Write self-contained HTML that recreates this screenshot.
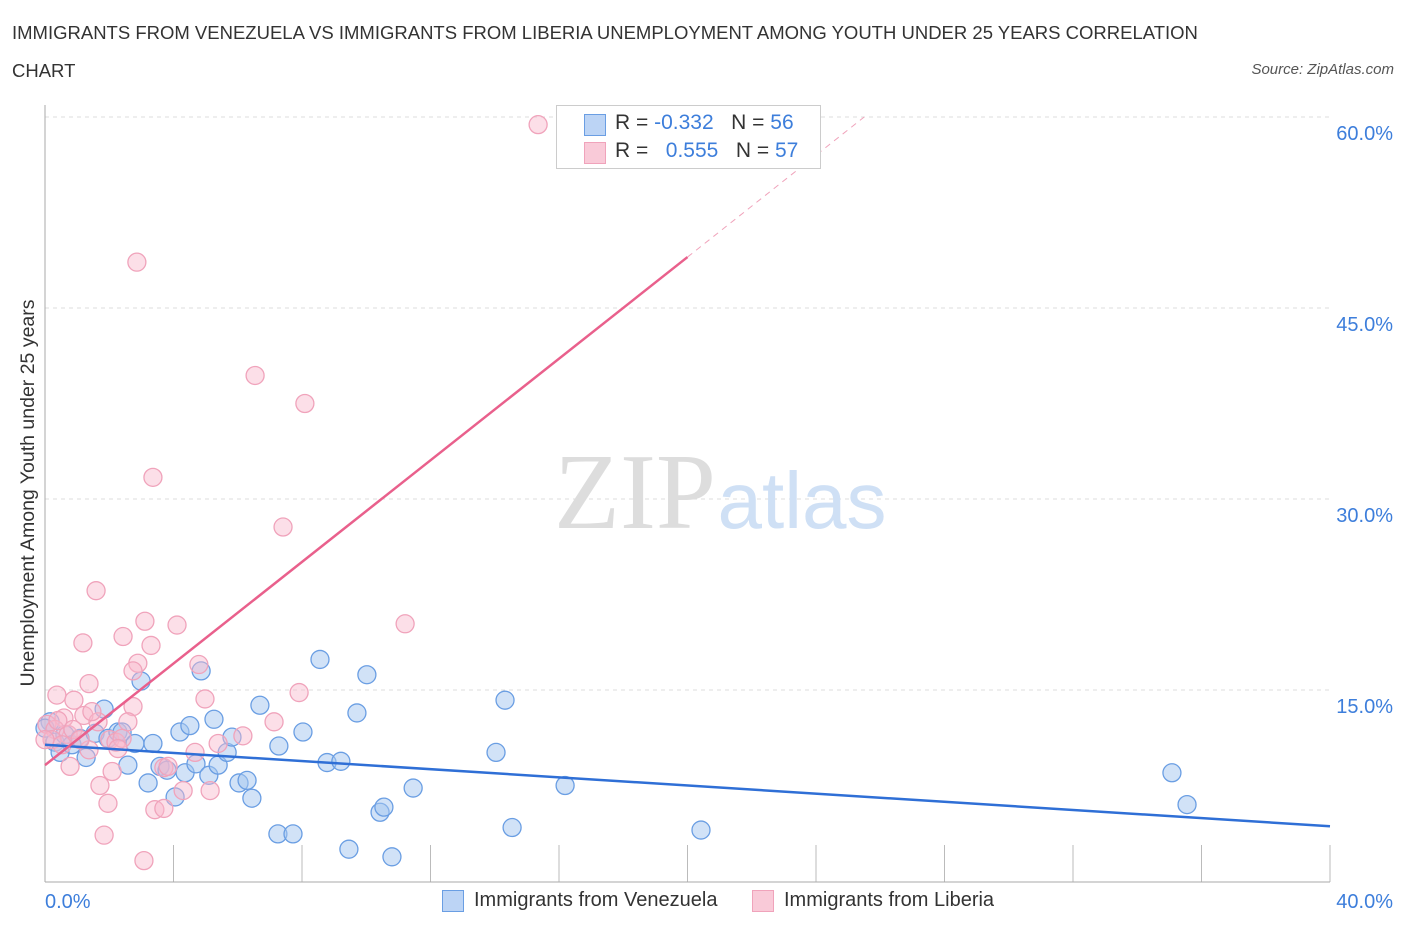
<!DOCTYPE html>
<html><head><meta charset="utf-8"><style>
body{margin:0;background:#fff;font-family:"Liberation Sans",sans-serif;}
#wrap{position:relative;width:1406px;height:930px;overflow:hidden;}
.t{position:absolute;color:#333;font-size:18.5px;}
</style></head><body>
<div id="wrap">
<div class="t" style="left:12px;top:22px">IMMIGRANTS FROM VENEZUELA VS IMMIGRANTS FROM LIBERIA UNEMPLOYMENT AMONG YOUTH UNDER 25 YEARS CORRELATION</div>
<div class="t" style="left:12px;top:60px">CHART</div>
<div class="t" style="right:12px;top:61px;font-size:15px;font-style:italic;color:#555">Source: ZipAtlas.com</div>
<svg id="svg" width="1406" height="930" style="position:absolute;left:0;top:0"></svg>
</div>
<script>
const yTicks=[15,30,45,60];
const yTickLabels=["15.0%","30.0%","45.0%","60.0%"];
const xTickLabels=["0.0%","40.0%"];
const blueX=[0.16,0.31,0.47,0.62,0.84,1.09,1.28,1.56,1.84,1.96,2.27,2.40,2.58,2.80,2.99,3.21,3.36,3.58,3.80,4.05,4.20,4.36,4.51,4.70,4.86,5.10,5.26,5.39,5.67,5.82,6.04,6.29,6.44,6.69,7.28,7.25,7.72,8.03,8.56,8.78,9.21,9.46,9.71,10.02,10.43,10.55,10.80,11.46,14.04,14.32,14.54,16.19,20.42,35.08,35.55,0];
const blueY=[12.5,10.9,10.1,11.5,10.7,11.2,9.7,11.6,13.5,11.2,11.7,11.7,9.1,10.8,15.7,7.7,10.8,9.0,8.7,6.6,11.7,8.5,12.2,9.2,16.5,8.3,12.7,9.1,10.1,11.3,7.7,7.9,6.5,13.8,10.6,3.7,3.7,11.7,17.4,9.3,9.4,2.5,13.2,16.2,5.4,5.8,1.9,7.3,10.1,14.2,4.2,7.5,4.0,8.5,6.0,12.0];
const pinkX=[15.35,2.86,6.54,8.09,3.36,7.41,1.59,3.11,4.11,11.21,2.43,1.18,3.30,2.89,2.74,4.79,1.37,0.37,7.91,4.98,0.90,2.74,0.59,1.21,1.65,2.58,7.13,0.06,0.31,0.72,2.02,2.21,5.39,6.16,1.37,0.78,4.67,3.70,2.09,1.71,5.14,4.30,1.96,3.42,3.70,1.84,3.08,0.22,0.53,0.87,0.40,2.40,1.09,0,1.46,2.27,3.83];
const pinkY=[59.4,48.6,39.7,37.5,31.7,27.8,22.8,20.4,20.1,20.2,19.2,18.7,18.5,17.1,16.5,17.0,15.5,14.6,14.8,14.3,14.2,13.7,12.8,13.0,12.5,12.5,12.5,12.3,11.9,11.5,11.1,10.9,10.8,11.4,10.3,9.0,10.1,8.9,8.6,7.5,7.1,7.1,6.1,5.6,5.7,3.6,1.6,11.1,10.7,11.9,12.6,11.2,11.1,11.1,13.3,10.4,9.0];
const blueTrend=[[0,10.7],[40,4.3]];
const pinkTrend=[[0,9.1],[20.0,49.0]];
const pinkDash=[[20.0,49.0],[25.5,60]];
const NS="http://www.w3.org/2000/svg";
const svg=document.getElementById('svg');
const X=v=>45+v/40*1285;
const Y=v=>881-v/15*191;
function mk(t,a){const e=document.createElementNS(NS,t);for(const k in a)e.setAttribute(k,a[k]);svg.appendChild(e);return e;}
yTicks.forEach((v,i)=>{
 const g=mk('line',{x1:45,x2:1330,y1:Y(v),y2:Y(v),stroke:'#ddd','stroke-dasharray':'4,4'});
 
 
 const t=mk('text',{x:1393,y:Y(v)+23,'text-anchor':'end',fill:'#3d7edb','font-size':20,'font-family':'Liberation Sans, sans-serif'});
 t.textContent=yTickLabels[i];
 
 
});
for(let i=0;i<=10;i++){
 const tk=mk('line',{x1:X(i*4),x2:X(i*4),y1:845,y2:882,stroke:'#bbb'});
 
 
}
let a=mk('line',{x1:45,x2:45,y1:105,y2:882,stroke:'#aaa'});

a=mk('line',{x1:45,x2:1330,y1:882,y2:882,stroke:'#aaa'});

[[xTickLabels[0],45,'start'],[xTickLabels[1],1393,'end']].forEach(d=>{
 const t=mk('text',{x:d[1],y:908,'text-anchor':d[2],fill:'#3d7edb','font-size':20,'font-family':'Liberation Sans, sans-serif'});
 t.textContent=d[0];
 
 
});
let w=mk('text',{x:635,y:528,'text-anchor':'middle',fill:'#ddd','font-size':108,'font-family':'Liberation Serif, serif'});w.textContent='ZIP';

w=mk('text',{x:802,y:528,'text-anchor':'middle',fill:'#cfe0f5','font-size':80,'font-family':'Liberation Sans, sans-serif'});w.textContent='atlas';

let yt=mk('text',{x:0,y:0,transform:'translate(34,493) rotate(-90)','text-anchor':'middle',fill:'#333','font-size':19.5,'font-family':'Liberation Sans, sans-serif'});
yt.textContent='Unemployment Among Youth under 25 years';

blueX.forEach((v,i)=>{
 const c=mk('circle',{cx:X(v),cy:Y(blueY[i]),r:9,fill:'rgba(164,198,240,0.5)',stroke:'#6a9ee3','stroke-width':1.3});
 
 
});
pinkX.forEach((v,i)=>{
 const c=mk('circle',{cx:X(v),cy:Y(pinkY[i]),r:9,fill:'rgba(248,184,204,0.45)',stroke:'#f0a3bb','stroke-width':1.3});
 
 
});
let l=mk('line',{x1:X(blueTrend[0][0]),y1:Y(blueTrend[0][1]),x2:X(blueTrend[1][0]),y2:Y(blueTrend[1][1]),stroke:'#2f6fd6','stroke-width':2.5});

l=mk('line',{x1:X(pinkTrend[0][0]),y1:Y(pinkTrend[0][1]),x2:X(pinkTrend[1][0]),y2:Y(pinkTrend[1][1]),stroke:'#e9608c','stroke-width':2.5});

l=mk('line',{x1:X(pinkDash[0][0]),y1:Y(pinkDash[0][1]),x2:X(pinkDash[1][0]),y2:Y(pinkDash[1][1]),stroke:'#f0a3bb','stroke-width':1,'stroke-dasharray':'6,5'});

</script>
<div style="position:absolute;left:556px;top:105px;width:263px;height:62px;border:1px solid #ccc;background:#fff;font-size:21px;color:#333">
 <div style="position:absolute;left:27px;top:8px;width:20px;height:20px;background:#bcd4f5;border:1px solid #6a9ee3"></div>
 <div style="position:absolute;left:58px;top:5px;white-space:nowrap">R = <span style="color:#3d7edb">-0.332</span>&nbsp;&nbsp;&nbsp;N = <span style="color:#3d7edb">56</span></div>
 <div style="position:absolute;left:27px;top:36px;width:20px;height:20px;background:#f9cad8;border:1px solid #f0a3bb"></div>
 <div style="position:absolute;left:58px;top:33px;white-space:nowrap">R = &nbsp;<span style="color:#3d7edb">&nbsp;0.555</span>&nbsp;&nbsp;&nbsp;N = <span style="color:#3d7edb">57</span></div>
</div>
<div style="position:absolute;left:442px;top:890px;width:20px;height:20px;background:#bcd4f5;border:1px solid #6a9ee3"></div>
<div class="t" style="left:474px;top:889px;font-size:20px">Immigrants from Venezuela</div>
<div style="position:absolute;left:752px;top:890px;width:20px;height:20px;background:#f9cad8;border:1px solid #f0a3bb"></div>
<div class="t" style="left:784px;top:889px;font-size:20px">Immigrants from Liberia</div>
</body></html>
